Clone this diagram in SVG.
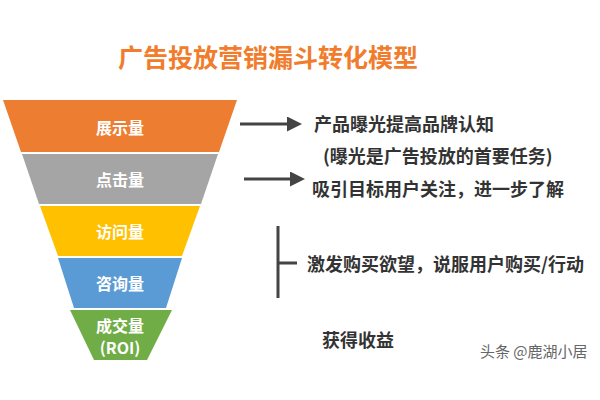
<svg xmlns="http://www.w3.org/2000/svg" width="600" height="400" viewBox="0 0 600 400">
<defs>
<style>
.t{font-family:"Noto Sans CJK SC","Liberation Sans",sans-serif;font-weight:bold}
.w{fill:#fff;font-size:16px;text-anchor:middle;dominant-baseline:central}
.d{fill:#333;font-size:18px;dominant-baseline:central}
.c{stroke:#444;stroke-width:3;fill:none}
</style>
<marker id="a" markerWidth="5" markerHeight="5" refX="3" refY="2.5" orient="auto" markerUnits="strokeWidth"><path d="M0,0 L5,2.5 L0,5 z" fill="#444"/></marker>
</defs>
<rect width="600" height="400" fill="#fff"/>
<text class="t" x="268" y="56" font-size="25" fill="#f07c2c" text-anchor="middle" dominant-baseline="central">广告投放营销漏斗转化模型</text>
<g id="n1"><polygon points="3,100 237,100 219,152 21,152" fill="#ed7d31"/><text class="t w" x="120" y="127">展示量</text></g>
<g id="n2"><polygon points="22,154 218,154 201,204 39,204" fill="#a5a5a5"/><text class="t w" x="120" y="179">点击量</text></g>
<g id="n3"><polygon points="40,206 200,206 182,256 58,256" fill="#ffc000"/><text class="t w" x="120" y="231">访问量</text></g>
<g id="n4"><polygon points="58,258 182,258 166,308 74,308" fill="#5b9bd5"/><text class="t w" x="120" y="283">咨询量</text></g>
<g id="n5"><polygon points="70,310 172,310 147,360 94,360" fill="#70ad47"/><text class="t w" x="120" y="325">成交量</text><text class="t w" x="120" y="347">(ROI)</text></g>
<g id="connectors">
<line class="c" x1="240" y1="124" x2="296" y2="124" marker-end="url(#a)"/>
<line class="c" x1="244" y1="179" x2="299" y2="179" marker-end="url(#a)"/>
<path class="c" d="M278,226 V298 M278,263 H297"/>
</g>
<g id="txt1"><text class="t d" x="314" y="123">产品曝光提高品牌认知</text><text class="t d" x="323" y="155">(曝光是广告投放的首要任务)</text></g>
<g id="txt2"><text class="t d" x="312" y="188">吸引目标用户关注，进一步了解</text></g>
<g id="txt3"><text class="t d" x="307" y="263">激发购买欲望，说服用户购买/行动</text></g>
<g id="txt4"><text class="t d" x="322" y="339">获得收益</text></g>
<text x="480" y="350" font-family="Noto Sans CJK SC,sans-serif" font-size="15" fill="#666" dominant-baseline="central">头条 @鹿湖小居</text>
</svg>
